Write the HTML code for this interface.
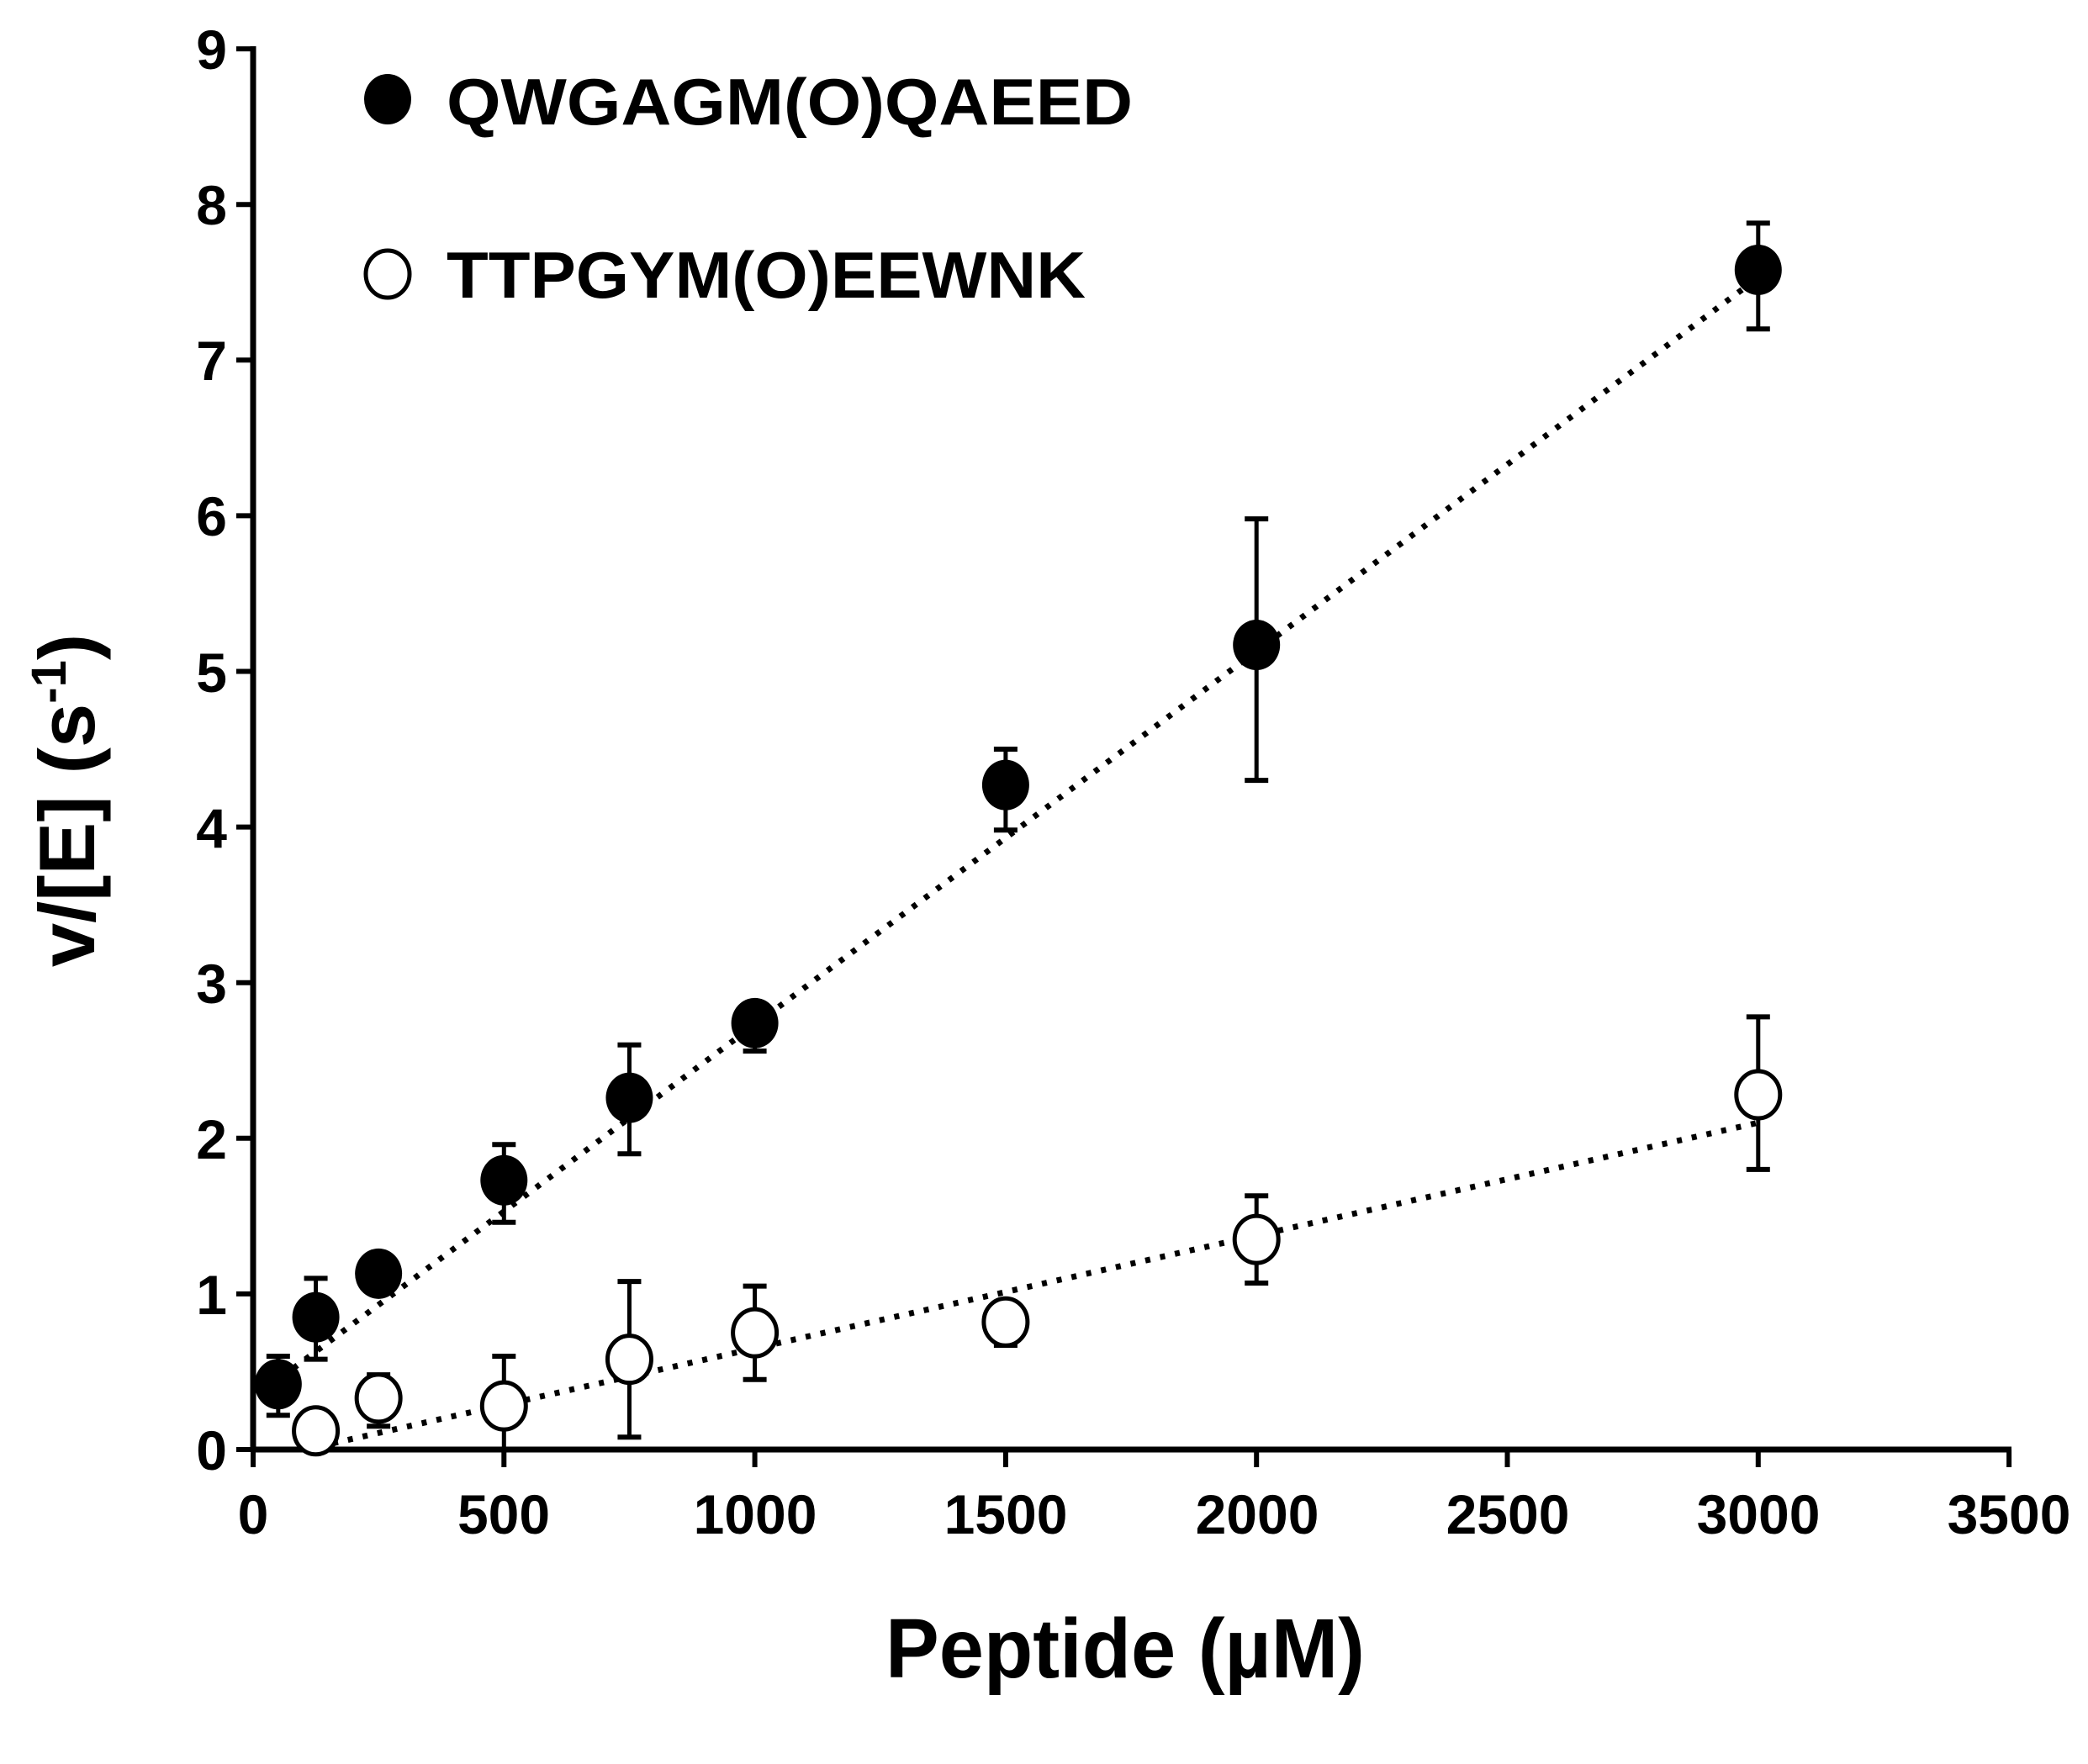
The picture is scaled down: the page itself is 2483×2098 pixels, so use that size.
<!DOCTYPE html>
<html><head><meta charset="utf-8"><style>
html,body{margin:0;padding:0;background:#fff;overflow:hidden}
svg{display:block}
text{font-family:"Liberation Sans",sans-serif;font-weight:bold;fill:#000}
</style></head><body>
<svg id="s" width="2483" height="2098" viewBox="0 0 2483 2098" xmlns="http://www.w3.org/2000/svg">
<g font-size="66" text-anchor="end">
<text x="270" y="1748">0</text><text x="270" y="1563">1</text><text x="270" y="1378">2</text>
<text x="270" y="1193">3</text><text x="270" y="1008">4</text><text x="270" y="823">5</text>
<text x="270" y="637">6</text><text x="270" y="452">7</text><text x="270" y="267">8</text>
<text x="270" y="82">9</text>
</g>
<g font-size="66" text-anchor="middle">
<text x="301" y="1824">0</text><text x="599" y="1824">500</text><text x="898" y="1824">1000</text>
<text x="1196" y="1824">1500</text><text x="1495" y="1824">2000</text><text x="1793" y="1824">2500</text>
<text x="2091" y="1824">3000</text><text x="2389" y="1824">3500</text>
</g>
<text x="1338" y="1995" font-size="100" text-anchor="middle" textLength="570" lengthAdjust="spacingAndGlyphs">Peptide (µM)</text>
<text transform="translate(112,952) rotate(-90)" font-size="94" text-anchor="middle">v/[E] (s<tspan font-size="58" dy="-34">-1</tspan><tspan dy="34">)</tspan></text>
<text x="531" y="148" font-size="78" textLength="816" lengthAdjust="spacingAndGlyphs">QWGAGM(O)QAEED</text>
<text x="531" y="354" font-size="78" textLength="760" lengthAdjust="spacingAndGlyphs">TTPGYM(O)EEWNK</text>
<ellipse cx="461" cy="118" rx="28" ry="30" fill="#000"/>
<ellipse cx="461" cy="326" rx="26" ry="28" fill="#fff" stroke="#000" stroke-width="5"/>
<g id="plot"></g>
</svg>
<script>
var g=document.getElementById('plot'),NS='http://www.w3.org/2000/svg';
function X(v){return 301+v*0.5966}function Y(v){return 1724-v*185.1}
function el(t,a){var e=document.createElementNS(NS,t);for(var k in a)e.setAttribute(k,a[k]);g.appendChild(e);return e}
el('line',{x1:301,y1:55,x2:301,y2:1727,stroke:'#000','stroke-width':7});
el('line',{x1:298,y1:1724,x2:2392,y2:1724,stroke:'#000','stroke-width':7});
for(var i=0;i<=9;i++)el('line',{x1:281,y1:Y(i),x2:301,y2:Y(i),stroke:'#000','stroke-width':6});
for(var i=0;i<=7;i++)el('line',{x1:X(i*500),y1:1724,x2:X(i*500),y2:1745,stroke:'#000','stroke-width':6});
el('line',{x1:X(80),y1:Y(0.33+0.0024*80),x2:X(3000),y2:Y(0.33+0.0024*3000),stroke:'#000','stroke-width':7,'stroke-dasharray':'6 12'});
el('line',{x1:X(130),y1:Y(-0.075+0.000725*130),x2:X(3000),y2:Y(-0.075+0.000725*3000),stroke:'#000','stroke-width':7,'stroke-dasharray':'6 12'});
var F=[[50,0.42,0.6,0.22],[125,0.85,1.1,0.58],[250,1.13,1.2,1.06],[500,1.73,1.96,1.46],[750,2.26,2.6,1.9],[1000,2.74,2.86,2.56],[1500,4.27,4.5,3.98],[2000,5.17,5.98,4.3],[3000,7.58,7.88,7.2]];
var O=[[125,0.12,0.12,0.12],[250,0.33,0.48,0.15],[500,0.28,0.6,0.0],[750,0.58,1.08,0.08],[1000,0.75,1.05,0.45],[1500,0.82,0.9,0.67],[2000,1.35,1.63,1.07],[3000,2.28,2.78,1.8]];
function err(d){var x=X(d[0]);el('line',{x1:x,y1:Y(d[2]),x2:x,y2:Y(d[3]),stroke:'#000','stroke-width':5});
[d[2],d[3]].forEach(function(v){el('line',{x1:x-14,y1:Y(v),x2:x+14,y2:Y(v),stroke:'#000','stroke-width':6})})}
F.forEach(err);O.forEach(err);
F.forEach(function(d){el('ellipse',{cx:X(d[0]),cy:Y(d[1]),rx:28,ry:30,fill:'#000'})});
O.forEach(function(d){el('ellipse',{cx:X(d[0]),cy:Y(d[1]),rx:26,ry:28,fill:'#fff',stroke:'#000','stroke-width':5})});
</script>
</body></html>
